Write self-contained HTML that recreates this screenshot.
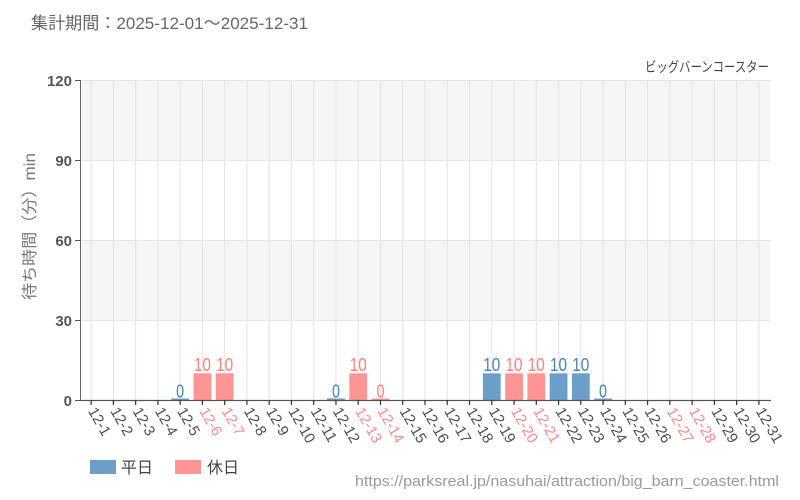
<!DOCTYPE html>
<html><head><meta charset="utf-8"><style>
html,body{margin:0;padding:0;background:#fff;}
svg{display:block;font-family:"Liberation Sans","Noto Sans CJK JP",sans-serif;}
</style></head><body>
<svg width="800" height="500" viewBox="0 0 800 500" xmlns="http://www.w3.org/2000/svg">
<rect x="0" y="0" width="800" height="500" fill="#fff"/>
<text x="31" y="29" font-size="17" fill="#666" textLength="277" lengthAdjust="spacingAndGlyphs">集計期間：2025-12-01～2025-12-31</text>
<text x="645" y="72" font-size="14" fill="#444" textLength="124" lengthAdjust="spacingAndGlyphs">ビッグバーンコースター</text>
<!-- bands -->
<rect x="80" y="80" width="690" height="80" fill="#f5f5f5"/>
<rect x="80" y="240" width="690" height="80" fill="#f5f5f5"/>
<!-- horizontal grid -->
<g stroke="#e6e6e6" stroke-width="1">
<line x1="80" y1="80.5" x2="770" y2="80.5"/>
<line x1="80" y1="160.5" x2="770" y2="160.5"/>
<line x1="80" y1="240.5" x2="770" y2="240.5"/>
<line x1="80" y1="320.5" x2="770" y2="320.5"/>
</g>
<!-- vertical grid -->
<g stroke="#e4e4e4" stroke-width="1">
<line x1="91.13" y1="80" x2="91.13" y2="400"/>
<line x1="113.39" y1="80" x2="113.39" y2="400"/>
<line x1="135.65" y1="80" x2="135.65" y2="400"/>
<line x1="157.90" y1="80" x2="157.90" y2="400"/>
<line x1="180.16" y1="80" x2="180.16" y2="400"/>
<line x1="202.42" y1="80" x2="202.42" y2="400"/>
<line x1="224.68" y1="80" x2="224.68" y2="400"/>
<line x1="246.94" y1="80" x2="246.94" y2="400"/>
<line x1="269.19" y1="80" x2="269.19" y2="400"/>
<line x1="291.45" y1="80" x2="291.45" y2="400"/>
<line x1="313.71" y1="80" x2="313.71" y2="400"/>
<line x1="335.97" y1="80" x2="335.97" y2="400"/>
<line x1="358.23" y1="80" x2="358.23" y2="400"/>
<line x1="380.48" y1="80" x2="380.48" y2="400"/>
<line x1="402.74" y1="80" x2="402.74" y2="400"/>
<line x1="425.00" y1="80" x2="425.00" y2="400"/>
<line x1="447.26" y1="80" x2="447.26" y2="400"/>
<line x1="469.52" y1="80" x2="469.52" y2="400"/>
<line x1="491.77" y1="80" x2="491.77" y2="400"/>
<line x1="514.03" y1="80" x2="514.03" y2="400"/>
<line x1="536.29" y1="80" x2="536.29" y2="400"/>
<line x1="558.55" y1="80" x2="558.55" y2="400"/>
<line x1="580.81" y1="80" x2="580.81" y2="400"/>
<line x1="603.06" y1="80" x2="603.06" y2="400"/>
<line x1="625.32" y1="80" x2="625.32" y2="400"/>
<line x1="647.58" y1="80" x2="647.58" y2="400"/>
<line x1="669.84" y1="80" x2="669.84" y2="400"/>
<line x1="692.10" y1="80" x2="692.10" y2="400"/>
<line x1="714.35" y1="80" x2="714.35" y2="400"/>
<line x1="736.61" y1="80" x2="736.61" y2="400"/>
<line x1="758.87" y1="80" x2="758.87" y2="400"/>
</g>
<!-- bars -->
<g>
<rect x="171.26" y="398.5" width="17.8" height="1.5" fill="#6b9ec8"/>
<rect x="193.52" y="373.33" width="17.8" height="26.67" fill="#ff9494"/>
<rect x="215.78" y="373.33" width="17.8" height="26.67" fill="#ff9494"/>
<rect x="327.07" y="398.5" width="17.8" height="1.5" fill="#6b9ec8"/>
<rect x="349.33" y="373.33" width="17.8" height="26.67" fill="#ff9494"/>
<rect x="371.58" y="398.5" width="17.8" height="1.5" fill="#ff9494"/>
<rect x="482.87" y="373.33" width="17.8" height="26.67" fill="#6b9ec8"/>
<rect x="505.13" y="373.33" width="17.8" height="26.67" fill="#ff9494"/>
<rect x="527.39" y="373.33" width="17.8" height="26.67" fill="#ff9494"/>
<rect x="549.65" y="373.33" width="17.8" height="26.67" fill="#6b9ec8"/>
<rect x="571.91" y="373.33" width="17.8" height="26.67" fill="#6b9ec8"/>
<rect x="594.16" y="398.5" width="17.8" height="1.5" fill="#6b9ec8"/>
</g>
<!-- data labels -->
<g font-size="18" text-anchor="middle">
<text x="180.16" y="397.5" fill="#4a83b5" textLength="8" lengthAdjust="spacingAndGlyphs">0</text>
<text x="202.42" y="371" fill="#ff7f7f" textLength="17" lengthAdjust="spacingAndGlyphs">10</text>
<text x="224.68" y="371" fill="#ff7f7f" textLength="17" lengthAdjust="spacingAndGlyphs">10</text>
<text x="335.97" y="397.5" fill="#4a83b5" textLength="8" lengthAdjust="spacingAndGlyphs">0</text>
<text x="358.23" y="371" fill="#ff7f7f" textLength="17" lengthAdjust="spacingAndGlyphs">10</text>
<text x="380.48" y="397.5" fill="#ff7f7f" textLength="8" lengthAdjust="spacingAndGlyphs">0</text>
<text x="491.77" y="371" fill="#4a83b5" textLength="17" lengthAdjust="spacingAndGlyphs">10</text>
<text x="514.03" y="371" fill="#ff7f7f" textLength="17" lengthAdjust="spacingAndGlyphs">10</text>
<text x="536.29" y="371" fill="#ff7f7f" textLength="17" lengthAdjust="spacingAndGlyphs">10</text>
<text x="558.55" y="371" fill="#4a83b5" textLength="17" lengthAdjust="spacingAndGlyphs">10</text>
<text x="580.81" y="371" fill="#4a83b5" textLength="17" lengthAdjust="spacingAndGlyphs">10</text>
<text x="603.06" y="397.5" fill="#4a83b5" textLength="8" lengthAdjust="spacingAndGlyphs">0</text>
</g>
<!-- axes -->
<line x1="80.5" y1="80" x2="80.5" y2="400" stroke="#666" stroke-width="1"/>
<g stroke="#555" stroke-width="1">
<line x1="75" y1="80.5" x2="80" y2="80.5"/>
<line x1="75" y1="160.5" x2="80" y2="160.5"/>
<line x1="75" y1="240.5" x2="80" y2="240.5"/>
<line x1="75" y1="320.5" x2="80" y2="320.5"/>
<line x1="75" y1="400.5" x2="80" y2="400.5"/>
</g>
<line x1="80" y1="400.5" x2="771" y2="400.5" stroke="#555" stroke-width="1.2"/>
<g stroke="#333" stroke-width="1.2">
<line x1="91.13" y1="400" x2="91.13" y2="405"/>
<line x1="113.39" y1="400" x2="113.39" y2="405"/>
<line x1="135.65" y1="400" x2="135.65" y2="405"/>
<line x1="157.90" y1="400" x2="157.90" y2="405"/>
<line x1="180.16" y1="400" x2="180.16" y2="405"/>
<line x1="202.42" y1="400" x2="202.42" y2="405"/>
<line x1="224.68" y1="400" x2="224.68" y2="405"/>
<line x1="246.94" y1="400" x2="246.94" y2="405"/>
<line x1="269.19" y1="400" x2="269.19" y2="405"/>
<line x1="291.45" y1="400" x2="291.45" y2="405"/>
<line x1="313.71" y1="400" x2="313.71" y2="405"/>
<line x1="335.97" y1="400" x2="335.97" y2="405"/>
<line x1="358.23" y1="400" x2="358.23" y2="405"/>
<line x1="380.48" y1="400" x2="380.48" y2="405"/>
<line x1="402.74" y1="400" x2="402.74" y2="405"/>
<line x1="425.00" y1="400" x2="425.00" y2="405"/>
<line x1="447.26" y1="400" x2="447.26" y2="405"/>
<line x1="469.52" y1="400" x2="469.52" y2="405"/>
<line x1="491.77" y1="400" x2="491.77" y2="405"/>
<line x1="514.03" y1="400" x2="514.03" y2="405"/>
<line x1="536.29" y1="400" x2="536.29" y2="405"/>
<line x1="558.55" y1="400" x2="558.55" y2="405"/>
<line x1="580.81" y1="400" x2="580.81" y2="405"/>
<line x1="603.06" y1="400" x2="603.06" y2="405"/>
<line x1="625.32" y1="400" x2="625.32" y2="405"/>
<line x1="647.58" y1="400" x2="647.58" y2="405"/>
<line x1="669.84" y1="400" x2="669.84" y2="405"/>
<line x1="692.10" y1="400" x2="692.10" y2="405"/>
<line x1="714.35" y1="400" x2="714.35" y2="405"/>
<line x1="736.61" y1="400" x2="736.61" y2="405"/>
<line x1="758.87" y1="400" x2="758.87" y2="405"/>
</g>
<!-- y labels -->
<g font-size="15" font-weight="bold" fill="#555" text-anchor="end">
<text x="72" y="86">120</text>
<text x="72" y="166">90</text>
<text x="72" y="246">60</text>
<text x="72" y="326">30</text>
<text x="72" y="406">0</text>
</g>
<text transform="translate(35,226.5) rotate(-90)" font-size="16" fill="#777" text-anchor="middle" textLength="147" lengthAdjust="spacingAndGlyphs">待ち時間（分）min</text>
<!-- x labels -->
<g font-size="15" fill="#4d4d4d" dominant-baseline="middle">
<text transform="translate(91.13,409) rotate(60)">12-1</text>
<text transform="translate(113.39,409) rotate(60)">12-2</text>
<text transform="translate(135.65,409) rotate(60)">12-3</text>
<text transform="translate(157.90,409) rotate(60)">12-4</text>
<text transform="translate(180.16,409) rotate(60)">12-5</text>
<text transform="translate(202.42,409) rotate(60)" fill="#ff8a8a">12-6</text>
<text transform="translate(224.68,409) rotate(60)" fill="#ff8a8a">12-7</text>
<text transform="translate(246.94,409) rotate(60)">12-8</text>
<text transform="translate(269.19,409) rotate(60)">12-9</text>
<text transform="translate(291.45,409) rotate(60)">12-10</text>
<text transform="translate(313.71,409) rotate(60)">12-11</text>
<text transform="translate(335.97,409) rotate(60)">12-12</text>
<text transform="translate(358.23,409) rotate(60)" fill="#ff8a8a">12-13</text>
<text transform="translate(380.48,409) rotate(60)" fill="#ff8a8a">12-14</text>
<text transform="translate(402.74,409) rotate(60)">12-15</text>
<text transform="translate(425.00,409) rotate(60)">12-16</text>
<text transform="translate(447.26,409) rotate(60)">12-17</text>
<text transform="translate(469.52,409) rotate(60)">12-18</text>
<text transform="translate(491.77,409) rotate(60)">12-19</text>
<text transform="translate(514.03,409) rotate(60)" fill="#ff8a8a">12-20</text>
<text transform="translate(536.29,409) rotate(60)" fill="#ff8a8a">12-21</text>
<text transform="translate(558.55,409) rotate(60)">12-22</text>
<text transform="translate(580.81,409) rotate(60)">12-23</text>
<text transform="translate(603.06,409) rotate(60)">12-24</text>
<text transform="translate(625.32,409) rotate(60)">12-25</text>
<text transform="translate(647.58,409) rotate(60)">12-26</text>
<text transform="translate(669.84,409) rotate(60)" fill="#ff8a8a">12-27</text>
<text transform="translate(692.10,409) rotate(60)" fill="#ff8a8a">12-28</text>
<text transform="translate(714.35,409) rotate(60)">12-29</text>
<text transform="translate(736.61,409) rotate(60)">12-30</text>
<text transform="translate(758.87,409) rotate(60)">12-31</text>
</g>
<!-- legend -->
<rect x="90" y="460" width="26" height="14" fill="#6b9ec8"/>
<text x="121" y="473" font-size="16" fill="#444">平日</text>
<rect x="175" y="460" width="26" height="14" fill="#ff9494"/>
<text x="207" y="473" font-size="16" fill="#444">休日</text>
<!-- source -->
<text x="355" y="486" font-size="15" fill="#999" textLength="424" lengthAdjust="spacingAndGlyphs">https://parksreal.jp/nasuhai/attraction/big_barn_coaster.html</text>
</svg>
</body></html>
